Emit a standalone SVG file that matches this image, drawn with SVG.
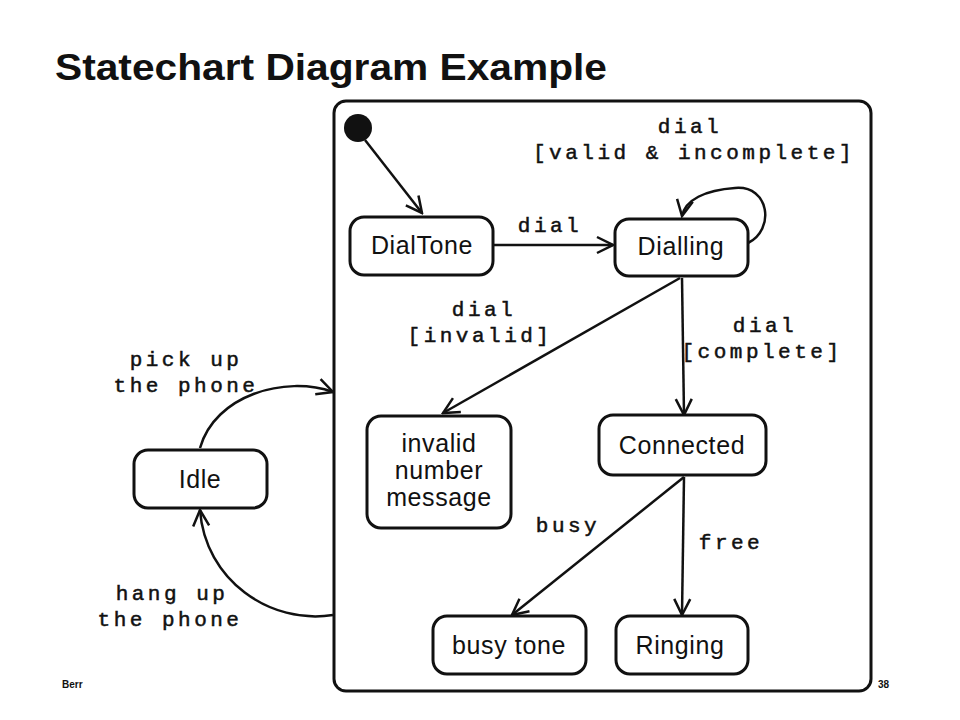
<svg xmlns="http://www.w3.org/2000/svg" width="960" height="720" viewBox="0 0 960 720">
<style>
.st{fill:#fff;stroke:#111;stroke-width:3}
.n{font-family:"Liberation Sans",Arial,sans-serif;font-size:25px;fill:#111;text-anchor:middle;letter-spacing:0.6px}
.l{font-family:"Liberation Mono","Courier New",monospace;font-size:21px;fill:#111;stroke:#111;stroke-width:0.5;text-anchor:middle;letter-spacing:3.5px}
.c{fill:none;stroke:#111;stroke-width:2.5;marker-end:url(#a)}
</style>
<defs><marker id="a" viewBox="0 0 20 20" refX="18" refY="10" markerWidth="20" markerHeight="20" markerUnits="userSpaceOnUse" orient="auto"><polyline points="2,2 18,10 2,18" fill="none" stroke="#111" stroke-width="2.5"/></marker></defs>
<rect width="960" height="720" fill="#fff"/>
<text x="55" y="80" font-family="Liberation Sans,Arial,sans-serif" font-weight="bold" font-size="36" fill="#111" textLength="552" lengthAdjust="spacingAndGlyphs">Statechart Diagram Example</text>
<rect x="334" y="101" width="537" height="590" rx="12" class="st"/>
<g id="connectors">
<line x1="365" y1="140" x2="422" y2="213" class="c"/>
<line x1="494" y1="245" x2="613" y2="245" class="c"/>
<path d="M748 243 C775 230 770 185 735 188 C705 190 685 200 682 216" class="c"/>
<line x1="680" y1="278" x2="443" y2="413" class="c"/>
<line x1="682" y1="278" x2="684" y2="415" class="c"/>
<line x1="684" y1="477" x2="512" y2="615" class="c"/>
<line x1="684" y1="477" x2="682" y2="615" class="c"/>
<path d="M200 448 C215 395 285 375 333 392" class="c"/>
<path d="M333 615 C270 625 205 580 200 510" class="c"/>
</g>
<g id="labels">
<text x="550" y="232" class="l">dial</text>
<text x="690" y="133" class="l">dial</text>
<text x="694" y="159" class="l">[valid &amp; incomplete]</text>
<text x="484" y="316" class="l">dial</text>
<text x="480" y="342" class="l">[invalid]</text>
<text x="765" y="332" class="l">dial</text>
<text x="762" y="358" class="l">[complete]</text>
<text x="568" y="532" class="l">busy</text>
<text x="731" y="549" class="l">free</text>
<text x="186" y="366" class="l">pick up</text>
<text x="186" y="392" class="l">the phone</text>
<text x="172" y="600" class="l">hang up</text>
<text x="170" y="626" class="l">the phone</text>
</g>
<g id="initial"><circle cx="358" cy="128" r="14" fill="#111"/></g>
<g id="DialTone"><rect x="350" y="217" width="143" height="58" rx="14" class="st"/><text x="422" y="254" class="n">DialTone</text></g>
<g id="Dialling"><rect x="615" y="219" width="133" height="57" rx="14" class="st"/><text x="681" y="255" class="n">Dialling</text></g>
<g id="invalid"><rect x="367" y="416" width="144" height="112" rx="14" class="st"/><text x="439" y="452" class="n">invalid</text><text x="439" y="479" class="n">number</text><text x="439" y="506" class="n">message</text></g>
<g id="Connected"><rect x="599" y="415" width="167" height="60" rx="14" class="st"/><text x="682" y="454" class="n">Connected</text></g>
<g id="busytone"><rect x="433" y="616" width="153" height="58" rx="14" class="st"/><text x="509" y="654" class="n">busy tone</text></g>
<g id="Ringing"><rect x="616" y="616" width="132" height="58" rx="14" class="st"/><text x="680" y="654" class="n">Ringing</text></g>
<g id="Idle"><rect x="134" y="450" width="133" height="58" rx="14" class="st"/><text x="200" y="488" class="n">Idle</text></g>
<text x="62" y="688" font-family="Liberation Sans,Arial,sans-serif" font-size="10" font-weight="bold" fill="#111">Berr</text>
<text x="878" y="688" font-family="Liberation Sans,Arial,sans-serif" font-size="10" font-weight="bold" fill="#111">38</text>
</svg>
